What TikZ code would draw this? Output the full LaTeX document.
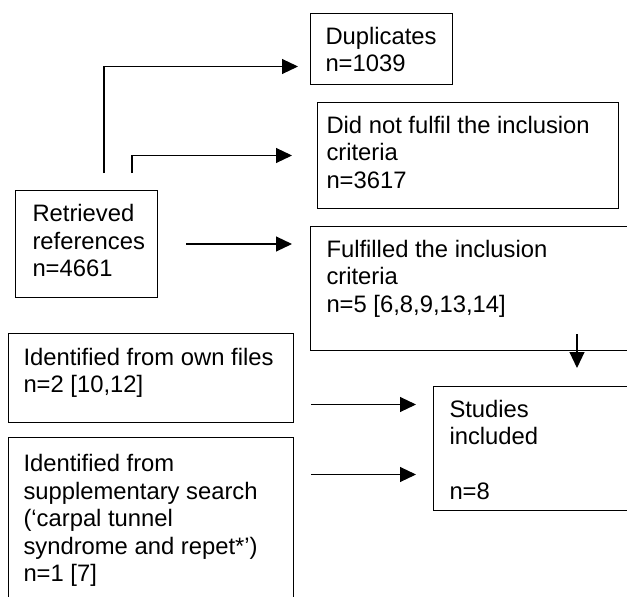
\documentclass[tikz,border=0pt]{standalone}
\usepackage{fontspec}
\setmainfont{Liberation Sans}
\usetikzlibrary{arrows.meta}

\newcommand{\boxtxt}[4]{%
  \begin{minipage}[t][#2pt][t]{#1pt}\fontsize{23.8}{27.5}\selectfont\raggedright
  \vspace*{#3pt}#4\end{minipage}}

\begin{document}
\begin{tikzpicture}[x=1pt,y=-1pt,
  box/.style={draw, line width=1pt, anchor=north west, inner xsep=15pt, inner ysep=0pt},
  arr/.style={line width=1.1pt, -{Triangle[length=16pt,width=15pt]}}]

\useasboundingbox (0,0) rectangle (627,597);
\clip (0,0) rectangle (627,597);

\node[box, inner xsep=17pt] (ret) at (15,190) {\boxtxt{108}{107}{14}{Retrieved\\references\\n=4661}};
\node[box] (dup) at (310,13) {\boxtxt{112}{71}{13.5}{Duplicates\\n=1039}};
\node[box, inner xsep=9pt] (notf) at (317,102) {\boxtxt{283}{106}{13.5}{Did not fulfil the inclusion\\criteria\\n=3617}};
\node[box, inner xsep=16pt] (ful) at (310,226) {\boxtxt{368}{124}{13.5}{Fulfilled the inclusion\\criteria\\n=5 [6,8,9,13,14]}};
\node[box] (own) at (8,333) {\boxtxt{255}{89}{14.5}{Identified from own files\\n=2 [10,12]}};
\node[box] (sup) at (8,437) {\boxtxt{255}{200}{17}{Identified from\\supplementary search\\(‘carpal tunnel\\syndrome and repet*’)\\n=1 [7]}};
\node[box, inner xsep=16pt] (stu) at (433,386) {\boxtxt{218}{124}{13.5}{Studies\\included\\[27.5pt]n=8}};

\coordinate (a4) at ([yshift=44pt]stu.west);
\coordinate (a5) at ([yshift=-26pt]stu.west);

\draw[arr, shorten <=17pt, shorten >=12pt] ([xshift=89pt]ret.north west) |- ([yshift=-17.5pt]dup.west);
\draw[arr, shorten <=17pt, shorten >=25pt] ([xshift=117pt]ret.north west) |- (notf.west);
\draw[arr, shorten <=28pt, shorten >=18pt] (ret.east) -- (ret.east -| ful.west);
\draw[arr, shorten >=18pt] ([xshift=267pt,yshift=17pt]ful.south west) -- ([xshift=144pt]stu.north west);
\draw[arr, shorten <=17pt, shorten >=17pt] (own.east |- a4) -- (a4);
\draw[arr, shorten <=17pt, shorten >=17pt] (sup.east |- a5) -- (a5);

\end{tikzpicture}
\end{document}
